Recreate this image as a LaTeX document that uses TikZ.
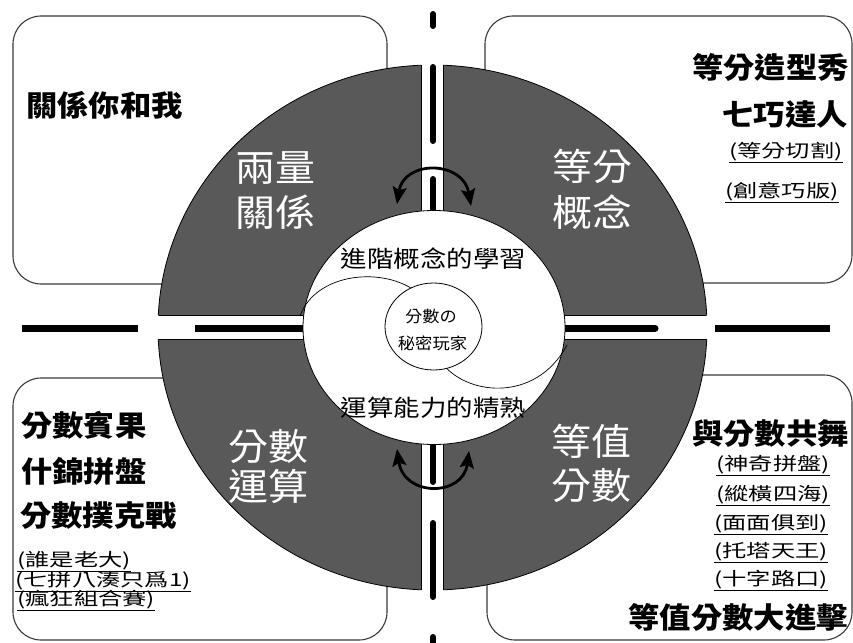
\documentclass[tikz,border=0pt]{standalone}
\usepackage{fontspec}
\usetikzlibrary{arrows.meta}
\newfontfamily\cjk[FakeStretch=1.08]{Noto Sans CJK TC}
\newfontfamily\cjkw[FakeStretch=1.15]{Noto Sans CJK TC}
\newfontfamily\cjks[FakeStretch=1.35]{Noto Sans CJK TC}
\definecolor{ringgray}{HTML}{595959}
\definecolor{boxedge}{HTML}{3A3A3A}
\begin{document}
\begin{tikzpicture}[x=1pt,y=-1pt,
  cornerbox/.style={fill=white, draw=boxedge, line width=1.1pt, rounded corners=28pt},
  gapedge/.style={draw=black, line width=0.8pt},
  blackbar/.style={draw=black, line width=7pt},
  blackvbar/.style={draw=black, line width=6pt, line cap=round},
  swing/.style={draw=black, line width=2.8pt, {Stealth[length=17pt,width=14pt,inset=3pt]}-{Stealth[length=17pt,width=14pt,inset=3pt]}},
  qlabel/.style={text=white, inner sep=0, anchor=base, font=\cjk\fontsize{37}{40}\selectfont},
  title/.style={inner sep=0, font=\cjk\bfseries\fontsize{29}{30}\selectfont},
  subtitle/.style={inner sep=0, font=\cjks\fontsize{18}{20}\selectfont},
  ringtext/.style={inner sep=0, anchor=base, font=\cjkw\fontsize{23}{24}\selectfont},
  coretext/.style={inner sep=0, anchor=base, font=\cjk\fontsize{16}{18}\selectfont}]
\useasboundingbox (0,0) rectangle (853,642);
\fill[white] (0,0) rectangle (853,642);

% corner boxes
\path[cornerbox] (13,16) rectangle (387,284);
\path[cornerbox] (485,16) rectangle (852,283);
\path[cornerbox] (13,378) rectangle (387,640);
\path[cornerbox] (487,375) rectangle (852,640);

% dark ring
\path[fill=ringgray, draw=black, line width=0.8pt] (432.5,327.5) ellipse [x radius=274.5, y radius=262.5];
\fill[white] (421,55) rectangle (443,600);
\fill[white] (150,315) rectangle (715,339);
\begin{scope}
  \clip (432.5,327.5) ellipse [x radius=274.5, y radius=262.5];
  \path[gapedge] (421,50) -- (421,315) (421,339) -- (421,610)
                 (443,50) -- (443,315) (443,339) -- (443,610)
                 (140,315) -- (421,315) (443,315) -- (720,315)
                 (140,339) -- (421,339) (443,339) -- (720,339);
\end{scope}

% black bars in the gaps
\coordinate (hA1) at (22,328);  \coordinate (hA2) at (138,328);
\coordinate (hB1) at (195,328); \coordinate (hB2) at (310,328);
\coordinate (hC1) at (560,328); \coordinate (hC2) at (655,328);
\coordinate (hD1) at (715,328); \coordinate (hD2) at (830,328);
\draw[blackbar] (hA1) -- (hA2);
\draw[blackbar] (hB1) -- (hB2);
\draw[blackbar, line cap=round] (hC1) -- (hC2);
\draw[blackbar] (hD1) -- (hD2);
\coordinate (vA1) at (433,14);  \coordinate (vA2) at (433,26);
\coordinate (vB1) at (433,67);  \coordinate (vB2) at (433,141);
\coordinate (vC1) at (433,179); \coordinate (vC2) at (433,225);
\coordinate (vD1) at (433,430); \coordinate (vD2) at (433,482);
\coordinate (vE1) at (433,523); \coordinate (vE2) at (433,597);
\coordinate (vF1) at (433,637); \coordinate (vF2) at (433,660);
\draw[blackvbar] (vA1) -- (vA2);
\draw[blackvbar] (vB1) -- (vB2);
\draw[blackvbar] (vC1) -- (vC2);
\draw[blackvbar] (vD1) -- (vD2);
\draw[blackvbar] (vE1) -- (vE2);
\draw[blackvbar] (vF1) -- (vF2);

% inner white disc
\path[fill=white, draw=black, line width=0.8pt] (434,327.5) ellipse [x radius=131, y radius=117];

% venn arcs
\draw[line width=0.7pt] (300,316) .. controls (316,272) and (385,266) .. (418,293);
\draw[line width=0.7pt] (440,360) .. controls (462,395) and (535,405) .. (567,345);
\path[fill=white, draw=black, line width=0.8pt] (433.5,326.5) ellipse [x radius=48.5, y radius=43.5];

% swing arrows
\coordinate (tl) at (397,204); \coordinate (tr) at (471,206);
\coordinate (bl) at (397,449); \coordinate (br) at (469,451);
\draw[swing] (tl) .. controls (404,160) and (463,160) .. (tr);
\draw[swing] (bl) .. controls (404,497) and (463,497) .. (br);

% ring labels
\node[qlabel] (q1a) at (275,181) {兩量};
\node[qlabel] (q1b) at (275,226) {關係};
\node[qlabel] (q2a) at (592,180) {等分};
\node[qlabel] (q2b) at (592,226) {概念};
\node[qlabel] (q3a) at (268,460) {分數};
\node[qlabel] (q3b) at (268,500) {運算};
\node[qlabel] (q4a) at (591,455) {等值};
\node[qlabel] (q4b) at (591,499) {分數};

% inner texts
\node[ringtext] (adv) at (433.5,267) {進階概念的學習};
\node[ringtext] (ops) at (433.5,416) {運算能力的精熟};
\node[coretext] (core1) at (431,322) {分數の};
\node[coretext] (core2) at (432.5,349.5) {秘密玩家};

% top-left box
\node[title, anchor=base west] (tlt) at (26,116) {關係你和我};
% top-right box
\node[title, anchor=base east] (trt1) at (849,78) {等分造型秀};
\node[title, anchor=base east] (trt2) at (848,125) {七巧達人};
\node[subtitle, anchor=base east] (trs1) at (843,157) {\underline{(等分切割)}};
\node[subtitle, anchor=base east] (trs2) at (839,197) {\underline{(創意巧版)}};
% bottom-left box
\node[title, anchor=base west] (blt1) at (21,436) {分數賓果};
\node[title, anchor=base west] (blt2) at (21,482) {什錦拼盤};
\node[title, anchor=base west] (blt3) at (20,526) {分數撲克戰};
\node[subtitle, anchor=base west] (bls1) at (17,566) {\underline{(誰是老大)}};
\node[subtitle, anchor=base west] (bls2) at (15,586) {\underline{(七拼八湊只爲1)}};
\node[subtitle, anchor=base west] (bls3) at (17,605) {\underline{(瘋狂組合賽)}};
% bottom-right box
\node[title, anchor=base east] (brt1) at (849,444) {與分數共舞};
\node[subtitle, anchor=base west] (brs1) at (716,470) {\underline{(神奇拼盤)}};
\node[subtitle, anchor=base west] (brs2) at (716,500) {\underline{(縱橫四海)}};
\node[subtitle, anchor=base west] (brs3) at (714,529) {\underline{(面面俱到)}};
\node[subtitle, anchor=base west] (brs4) at (714,557) {\underline{(托塔天王)}};
\node[subtitle, anchor=base west] (brs5) at (714,585) {\underline{(十字路口)}};
\node[title, anchor=base east] (brt2) at (848,628) {等值分數大進擊};
\end{tikzpicture}
\end{document}
